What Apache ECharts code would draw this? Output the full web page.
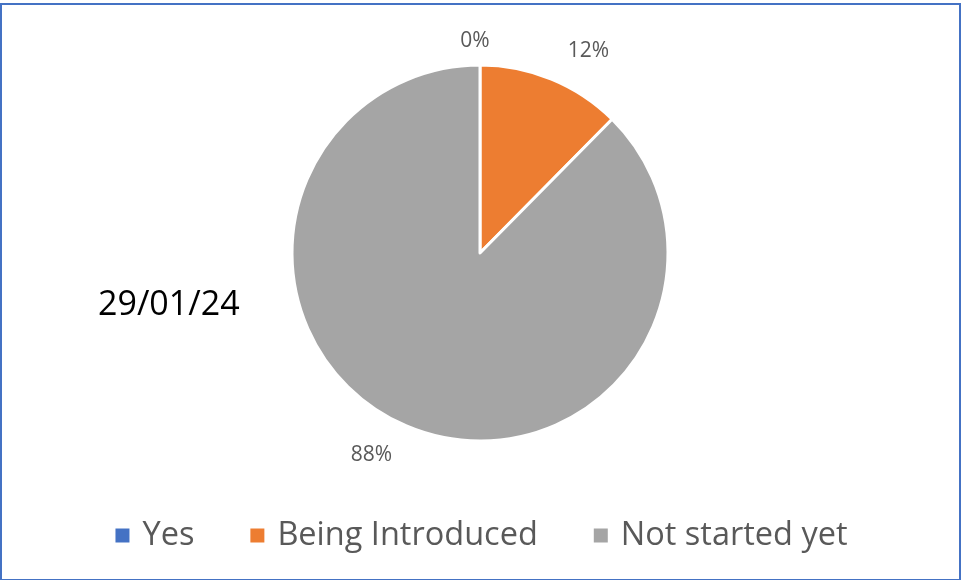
<!DOCTYPE html>
<html>
<head>
<meta charset="utf-8">
<script src="https://cdn.jsdelivr.net/npm/echarts@6/dist/echarts.min.js"></script>
<style>
html,body{margin:0;padding:0;background:#fff;}
#frame{position:absolute;left:0;top:3px;width:957px;height:574px;border:2px solid #4472C4;box-sizing:content-box;}
#chart{position:absolute;left:0;top:0;width:961px;height:580px;}
</style>
</head>
<body>
<div id="frame"></div>
<div id="chart"></div>
<script>
const categories = ['Yes', 'Being Introduced', 'Not started yet'];
const values = [0, 12.4, 87.6];
const colors = ['#4472C4', '#ED7D31', '#A5A5A5'];
const title = '29/01/24';

const chart = echarts.init(document.getElementById('chart'));
const total = values.reduce((a, b) => a + b, 0);
chart.setOption({
  animation: false,
  title: {
    text: title,
    left: 93,
    top: 283,
    textStyle: { fontFamily: 'Open Sans', fontSize: 34, fontWeight: 'normal', color: '#000' }
  },
  legend: {
    top: 514,
    left: 'center',
    itemWidth: 16,
    itemHeight: 16,
    itemGap: 54,
    icon: 'rect',
    textStyle: { fontFamily: 'Open Sans', fontSize: 32.5, color: '#595959', padding: [0, 0, 0, 7] },
    data: categories
  },
  series: [{
    type: 'pie',
    center: [480, 253],
    radius: 188,
    startAngle: 90,
    clockwise: true,
    avoidLabelOverlap: false,
    itemStyle: { borderColor: '#fff', borderWidth: 3 },
    label: {
      show: true,
      position: 'outside',
      fontFamily: 'Open Sans',
      fontSize: 21,
      color: '#595959',
      formatter: p => Math.round(p.value / total * 100) + '%'
    },
    labelLine: { show: false, length: 30, length2: 0 },
    labelLayout: p => (p.dataIndex === 0 ? { align: 'center', dy: 6 } : {}),
    emphasis: { disabled: true },
    data: categories.map((c, i) => ({ name: c, value: values[i], itemStyle: { color: colors[i] } }))
  }]
});
</script>
</body>
</html>
